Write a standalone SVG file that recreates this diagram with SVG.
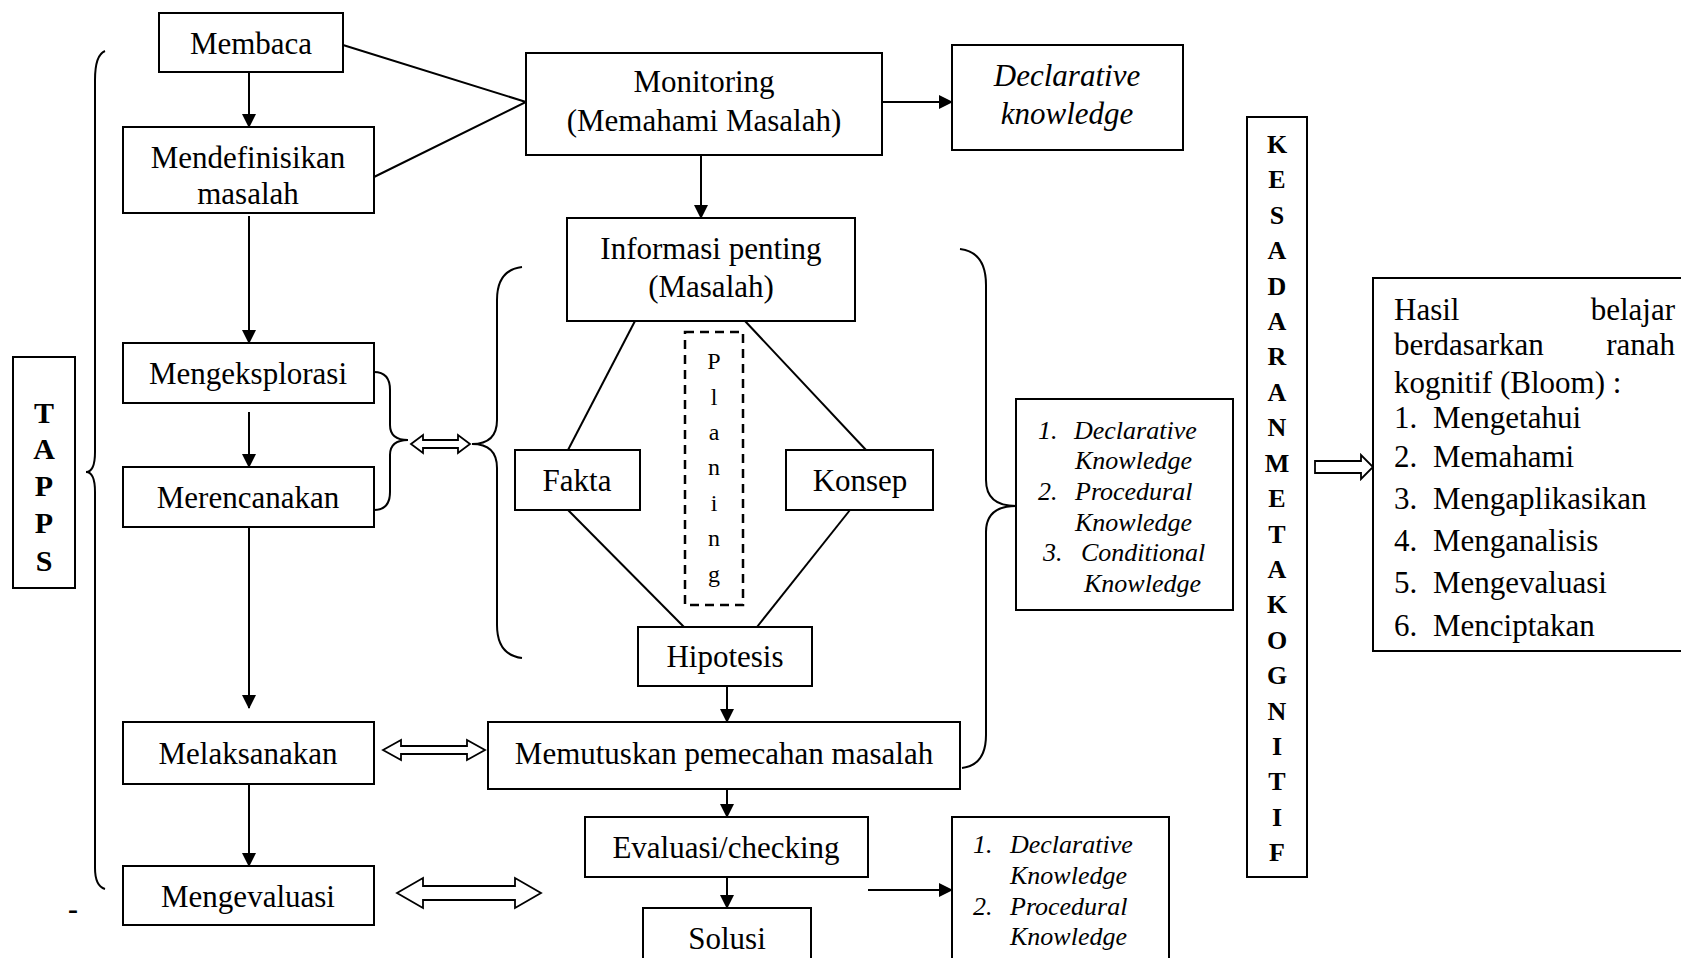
<svg xmlns="http://www.w3.org/2000/svg" width="1681" height="958" viewBox="0 0 1681 958">
<defs>
<marker id="ah" viewBox="0 0 14 14" refX="13" refY="7" markerWidth="14" markerHeight="14" markerUnits="userSpaceOnUse" orient="auto">
<path d="M0,0 L14,7 L0,14 Z" fill="#000"/>
</marker>
<style>
.box{fill:#fff;stroke:#000;stroke-width:2}
.ln{fill:none;stroke:#000;stroke-width:2}
.ar{fill:none;stroke:#000;stroke-width:2;marker-end:url(#ah)}
.ho{fill:#fff;stroke:#000;stroke-width:1.8}
.t{font-family:"Liberation Serif",serif;font-size:31px;fill:#000;text-anchor:middle}
.ti{font-family:"Liberation Serif",serif;font-size:31px;font-style:italic;fill:#000;text-anchor:middle}
.li{font-family:"Liberation Serif",serif;font-size:26px;font-style:italic;fill:#000}
.b{font-family:"Liberation Serif",serif;font-size:30px;font-weight:bold;fill:#000;text-anchor:middle}
.bk{font-family:"Liberation Serif",serif;font-size:26px;font-weight:bold;fill:#000;text-anchor:middle}
.p{font-family:"Liberation Serif",serif;font-size:24px;fill:#000;text-anchor:middle}
.h{font-family:"Liberation Serif",serif;font-size:31px;fill:#000}
</style>
</defs>
<rect width="1681" height="958" fill="#fff"/>

<g id="connectors">
<line class="ar" x1="249" y1="72" x2="249" y2="127"/>
<polyline class="ln" points="343,45 526,102 374,177"/>
<line class="ar" x1="882" y1="102" x2="952" y2="102"/>
<line class="ar" x1="701" y1="155" x2="701" y2="218"/>
<line class="ar" x1="249" y1="216" x2="249" y2="343"/>
<line class="ar" x1="249" y1="412" x2="249" y2="467"/>
<line class="ar" x1="249" y1="527" x2="249" y2="708"/>
<line class="ar" x1="249" y1="784" x2="249" y2="866"/>
<line class="ln" x1="635" y1="321" x2="568" y2="450"/>
<line class="ln" x1="745" y1="321" x2="866" y2="450"/>
<line class="ln" x1="568" y1="510" x2="684" y2="627"/>
<line class="ln" x1="850" y1="510" x2="757" y2="627"/>
<line class="ar" x1="727" y1="686" x2="727" y2="722"/>
<line class="ar" x1="727" y1="789" x2="727" y2="817"/>
<line class="ar" x1="727" y1="877" x2="727" y2="908"/>
<line class="ar" x1="868" y1="890" x2="952" y2="890"/>
<!-- braces -->
<path class="ln" d="M105,51 Q95,55 95,80 L95,452 Q95,472 86,472 Q95,472 95,492 L95,868 Q95,886 105,889"/>
<path class="ln" d="M374,372 Q390,372 390,390 L390,425 Q390,440 408,440 Q390,440 390,455 L390,492 Q390,510 374,510"/>
<path class="ln" d="M522,267 Q497,270 497,300 L497,420 Q497,444 472,444 Q497,444 497,468 L497,625 Q497,655 522,658"/>
<path class="ln" d="M960,249 Q986,252 986,285 L986,480 Q986,506 1016,506 Q986,506 986,532 L986,735 Q986,765 962,768"/>
<!-- hollow arrows -->
<path class="ho" d="M411,444 L423,435 L423,440 L458,440 L458,435 L470,444 L458,453 L458,448 L423,448 L423,453 Z"/>
<path class="ho" d="M383,750 L401,740 L401,746 L467,746 L467,740 L485,750 L467,760 L467,754 L401,754 L401,760 Z"/>
<path class="ho" d="M397,893 L423,878 L423,886 L515,886 L515,878 L541,893 L515,908 L515,900 L423,900 L423,908 Z"/>
<path class="ho" d="M1315,461 L1361,461 L1361,455 L1373,467 L1361,479 L1361,473 L1315,473 Z"/>
</g>

<g id="membaca"><rect class="box" x="159" y="13" width="184" height="59"/><text class="t" x="251" y="54">Membaca</text></g>
<g id="mendefinisikan"><rect class="box" x="123" y="127" width="251" height="86"/><text class="t" x="248" y="168">Mendefinisikan</text><text class="t" x="248" y="204">masalah</text></g>
<g id="monitoring"><rect class="box" x="526" y="53" width="356" height="102"/><text class="t" x="704" y="92">Monitoring</text><text class="t" x="704" y="131">(Memahami Masalah)</text></g>
<g id="declarative"><rect class="box" x="952" y="45" width="231" height="105"/><text class="ti" x="1067" y="86">Declarative</text><text class="ti" x="1067" y="124">knowledge</text></g>
<g id="informasi"><rect class="box" x="567" y="218" width="288" height="103"/><text class="t" x="711" y="259">Informasi penting</text><text class="t" x="711" y="297">(Masalah)</text></g>
<g id="mengeksplorasi"><rect class="box" x="123" y="343" width="251" height="60"/><text class="t" x="248" y="384">Mengeksplorasi</text></g>
<g id="merencanakan"><rect class="box" x="123" y="467" width="251" height="60"/><text class="t" x="248" y="508">Merencanakan</text></g>
<g id="fakta"><rect class="box" x="515" y="450" width="125" height="60"/><text class="t" x="577" y="491">Fakta</text></g>
<g id="konsep"><rect class="box" x="786" y="450" width="147" height="60"/><text class="t" x="860" y="491">Konsep</text></g>
<g id="planing"><rect x="685" y="332" width="58" height="273" fill="#fff" stroke="#000" stroke-width="2.5" stroke-dasharray="9,6"/>
<text class="p" x="714" y="369">P</text><text class="p" x="714" y="405">l</text><text class="p" x="714" y="440">a</text><text class="p" x="714" y="475">n</text><text class="p" x="714" y="511">i</text><text class="p" x="714" y="546">n</text><text class="p" x="714" y="582">g</text></g>
<g id="hipotesis"><rect class="box" x="638" y="627" width="174" height="59"/><text class="t" x="725" y="667">Hipotesis</text></g>
<g id="melaksanakan"><rect class="box" x="123" y="722" width="251" height="62"/><text class="t" x="248" y="764">Melaksanakan</text></g>
<g id="memutuskan"><rect class="box" x="488" y="722" width="472" height="67"/><text class="t" x="724" y="764">Memutuskan pemecahan masalah</text></g>
<g id="mengevaluasi"><rect class="box" x="123" y="866" width="251" height="59"/><text class="t" x="248" y="907">Mengevaluasi</text></g>
<g id="evaluasi"><rect class="box" x="585" y="817" width="283" height="60"/><text class="t" x="726" y="858">Evaluasi/checking</text></g>
<g id="solusi"><rect class="box" x="643" y="908" width="168" height="60"/><text class="t" x="727" y="949">Solusi</text></g>
<g id="knowledge3"><rect class="box" x="1016" y="399" width="217" height="211"/>
<text class="li" x="1038" y="439">1.</text><text class="li" x="1074" y="439">Declarative</text>
<text class="li" x="1075" y="469">Knowledge</text>
<text class="li" x="1038" y="500">2.</text><text class="li" x="1075" y="500">Procedural</text>
<text class="li" x="1075" y="531">Knowledge</text>
<text class="li" x="1043" y="561">3.</text><text class="li" x="1081" y="561">Conditional</text>
<text class="li" x="1084" y="592">Knowledge</text></g>
<g id="knowledge2"><rect class="box" x="952" y="817" width="217" height="150"/>
<text class="li" x="973" y="853">1.</text><text class="li" x="1010" y="853">Declarative</text>
<text class="li" x="1010" y="884">Knowledge</text>
<text class="li" x="973" y="915">2.</text><text class="li" x="1010" y="915">Procedural</text>
<text class="li" x="1010" y="945">Knowledge</text></g>
<g id="tapps"><rect class="box" x="13" y="357" width="62" height="231"/>
<text class="b" x="44" y="423">T</text><text class="b" x="44" y="459">A</text><text class="b" x="44" y="496">P</text><text class="b" x="44" y="533">P</text><text class="b" x="44" y="571">S</text></g>
<g id="kesadaran"><rect class="box" x="1247" y="117" width="60" height="760"/>
<text class="bk" x="1277" y="153">K</text><text class="bk" x="1277" y="188">E</text><text class="bk" x="1277" y="224">S</text><text class="bk" x="1277" y="259">A</text><text class="bk" x="1277" y="295">D</text><text class="bk" x="1277" y="330">A</text><text class="bk" x="1277" y="365">R</text><text class="bk" x="1277" y="401">A</text><text class="bk" x="1277" y="436">N</text><text class="bk" x="1277" y="472">M</text><text class="bk" x="1277" y="507">E</text><text class="bk" x="1277" y="543">T</text><text class="bk" x="1277" y="578">A</text><text class="bk" x="1277" y="613">K</text><text class="bk" x="1277" y="649">O</text><text class="bk" x="1277" y="684">G</text><text class="bk" x="1277" y="720">N</text><text class="bk" x="1277" y="755">I</text><text class="bk" x="1277" y="790">T</text><text class="bk" x="1277" y="826">I</text><text class="bk" x="1277" y="861">F</text></g>
<g id="hasil"><rect class="box" x="1373" y="278" width="320" height="373"/>
<text class="h" x="1394" y="320">Hasil</text><text class="h" x="1675" y="320" text-anchor="end">belajar</text>
<text class="h" x="1394" y="355">berdasarkan</text><text class="h" x="1675" y="355" text-anchor="end">ranah</text>
<text class="h" x="1394" y="393">kognitif (Bloom) :</text>
<text class="h" x="1394" y="428">1.</text><text class="h" x="1433" y="428">Mengetahui</text>
<text class="h" x="1394" y="467">2.</text><text class="h" x="1433" y="467">Memahami</text>
<text class="h" x="1394" y="509">3.</text><text class="h" x="1433" y="509">Mengaplikasikan</text>
<text class="h" x="1394" y="551">4.</text><text class="h" x="1433" y="551">Menganalisis</text>
<text class="h" x="1394" y="593">5.</text><text class="h" x="1433" y="593">Mengevaluasi</text>
<text class="h" x="1394" y="636">6.</text><text class="h" x="1433" y="636">Menciptakan</text></g>
<g id="dash"><text class="b" x="73" y="919">-</text></g>
</svg>
